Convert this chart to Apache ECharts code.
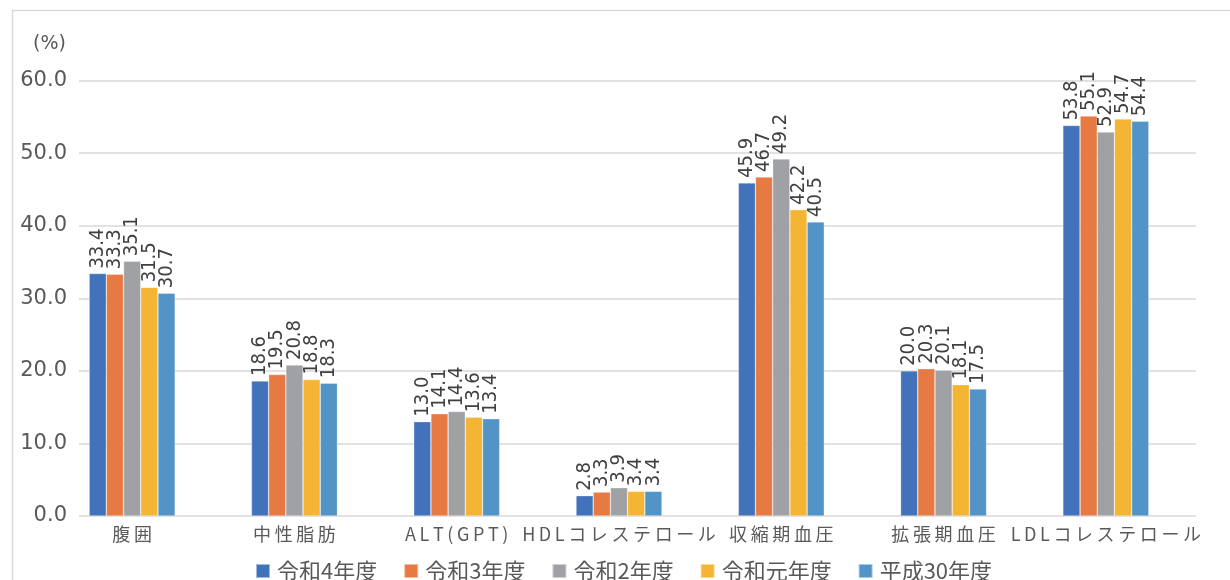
<!DOCTYPE html>
<html>
<head>
<meta charset="utf-8">
<script src="https://cdn.jsdelivr.net/npm/echarts@6/dist/echarts.min.js"></script>
<style>
  html, body { margin: 0; padding: 0; background: #ffffff; }
  #chart { width: 1230px; height: 580px; }
</style>
</head>
<body>
<div id="chart"></div>
<script>
// 健診項目ごとの有所見者割合(%)
const categories = ['腹囲', '中性脂肪', 'ALT(GPT)', 'HDLコレステロール', '収縮期血圧', '拡張期血圧', 'LDLコレステロール'];
const seriesNames = ['令和4年度', '令和3年度', '令和2年度', '令和元年度', '平成30年度'];
const reiwa4 = [33.4, 18.6, 13.0, 2.8, 45.9, 20.0, 53.8];
const reiwa3 = [33.3, 19.5, 14.1, 3.3, 46.7, 20.3, 55.1];
const reiwa2 = [35.1, 20.8, 14.4, 3.9, 49.2, 20.1, 52.9];
const reiwa1 = [31.5, 18.8, 13.6, 3.4, 42.2, 18.1, 54.7];
const heisei30 = [30.7, 18.3, 13.4, 3.4, 40.5, 17.5, 54.4];
const yTicks = [0, 10, 20, 30, 40, 50, 60];

const seriesData = [reiwa4, reiwa3, reiwa2, reiwa1, heisei30];
const colors = ['#4273BA', '#E67A42', '#A0A1A4', '#F4B434', '#5394C8'];

const textGray = '#595959';
const gridGray = '#d9d9d9';
const jpFont = '"Noto Sans CJK JP", "DejaVu Sans", sans-serif';

// spread characters a little, like the spaced category captions
const spaced = s => Array.from(s).join('\u2009');

const chart = echarts.init(document.getElementById('chart'), null, { renderer: 'canvas' });

const option = {
  backgroundColor: '#ffffff',
  animation: false,
  color: colors,
  grid: [
    // bars and category labels
    { left: 51, right: 43, top: 80.5, bottom: 64, containLabel: false },
    // value scale, labels and gridlines
    { left: 79, right: 34, top: 80.5, bottom: 64, containLabel: false }
  ],
  xAxis: [
    {
      type: 'category',
      gridIndex: 0,
      data: categories,
      axisLine: { show: false },
      axisTick: { show: false },
      axisLabel: {
        interval: 0,
        color: textGray,
        fontFamily: jpFont,
        fontSize: 18,
        margin: 9,
        formatter: v => spaced(v)
      }
    },
    {
      type: 'value',
      gridIndex: 1,
      show: false
    }
  ],
  yAxis: [
    {
      type: 'value',
      gridIndex: 0,
      min: yTicks[0],
      max: yTicks[yTicks.length - 1],
      interval: 10,
      show: false
    },
    {
      type: 'value',
      gridIndex: 1,
      min: yTicks[0],
      max: yTicks[yTicks.length - 1],
      interval: 10,
      axisLine: { show: false },
      axisTick: { show: false },
      splitLine: { show: true, lineStyle: { color: gridGray, width: 1.5 } },
      axisLabel: {
        color: textGray,
        fontFamily: '"DejaVu Sans", sans-serif',
        fontSize: 21,
        margin: 12,
        formatter: v => v.toFixed(1)
      }
    }
  ],
  legend: {
    data: seriesNames,
    top: 553,
    left: 250,
    padding: 5,
    itemWidth: 14,
    itemHeight: 14,
    itemGap: 26,
    icon: 'rect',
    textStyle: {
      color: textGray,
      fontFamily: jpFont,
      fontSize: 22,
      lineHeight: 26,
      padding: [0, 0, 0, 2]
    }
  },
  graphic: [
    {
      type: 'rect',
      left: 10,
      top: 8,
      shape: { x: 0, y: 0, width: 1219, height: 600 },
      style: { fill: 'none', stroke: gridGray, lineWidth: 1.5 },
      silent: true,
      z: 0
    },
    {
      type: 'text',
      left: 33,
      top: 35,
      style: {
        text: '(%)',
        fill: textGray,
        font: '19px "DejaVu Sans", sans-serif'
      }
    }
  ],
  series: seriesNames.map((name, i) => ({
    name: name,
    type: 'bar',
    xAxisIndex: 0,
    yAxisIndex: 0,
    data: seriesData[i],
    barGap: '0%',
    barCategoryGap: '47%',
    itemStyle: { color: colors[i], borderColor: 'rgba(255,255,255,0.5)', borderWidth: 0.6 },
    label: {
      show: true,
      position: 'top',
      rotate: 90,
      align: 'left',
      verticalAlign: 'middle',
      distance: 5,
      color: '#404040',
      fontFamily: '"DejaVu Sans Condensed", "DejaVu Sans", sans-serif',
      fontSize: 20,
      formatter: p => p.value.toFixed(1)
    }
  }))
};

chart.setOption(option);
</script>
</body>
</html>
